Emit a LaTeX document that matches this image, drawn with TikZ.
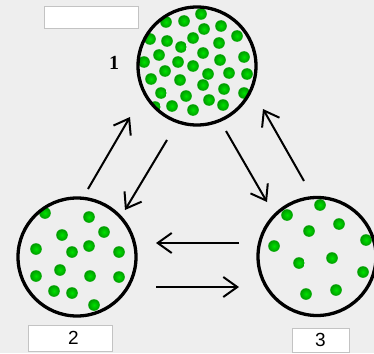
\documentclass[tikz,border=0pt]{standalone}
\usepackage{fontspec}
\setmainfont{Liberation Serif}
\newfontfamily\lsans{Liberation Sans}
\usetikzlibrary{arrows.meta}
\definecolor{bg}{RGB}{238,238,238}
\definecolor{dotin}{RGB}{0,225,0}
\definecolor{dotout}{RGB}{0,155,0}
\definecolor{boxline}{RGB}{195,195,195}
\tikzset{
  vessel/.style={circle, draw=black, line width=3.3pt, minimum size=118pt, inner sep=0pt},
  flow/.style={line width=2pt, -{Straight Barb[length=14pt,width=20pt]}},
  labelbox/.style={draw=boxline, fill=white, line width=1pt, inner sep=0pt, font=\lsans\fontsize{19}{19}\selectfont},
  greendot/.style={inner color=dotin, outer color=dotout},
}
\begin{document}
\begin{tikzpicture}[x=1pt,y=-1pt]
\fill[bg] (0,0) rectangle (374,353);
\useasboundingbox (0,0) rectangle (374,353);

% circle 1 dots
\begin{scope}
\clip (197,66) circle (59pt);
\foreach \p in {(201,14),(166,22),(184,21),(221,26),(204,29),(237,36),(150,39),(167,41),(193,38),(219,43),
  (181,47),(159,55),(203,53),(244,57),(144,62),(178,62),(220,60),(193,66),(165,71),(208,74),(229,73),(247,74),
  (151,79),(180,80),(203,85),(224,89),(161,93),(186,96),(209,100),(244,93),(155,107),(172,106),(193,110),(223,105)}
  {\shade[greendot] \p circle (5.8pt);}
\end{scope}
% circle 2 dots
\begin{scope}
\clip (77,257) circle (59pt);
\foreach \p in {(45,213),(89,217),(62,235),(104,232),(36,249),(72,252),(89,246),(119,252),(36,276),(60,270),
  (90,276),(119,277),(54,291),(72,293),(94,305)}
  {\shade[greendot] \p circle (5.8pt);}
\end{scope}
% circle 3 dots
\begin{scope}
\clip (317,256.5) circle (59pt);
\foreach \p in {(320,205),(287,215),(339,224),(309,231),(366,240),(274,246),(332,258),(299,263),(363,272),
  (306,294),(336,290)}
  {\shade[greendot] \p circle (5.8pt);}
\end{scope}

\node[vessel] (c1) at (197,66) {};
\node[vessel] (c2) at (77,257) {};
\node[vessel] (c3) at (317,256.5) {};

\node[labelbox, minimum width=94pt, minimum height=22pt] (b1) at (91,18) {};
\node[labelbox, minimum width=84pt, minimum height=26pt] (b2) at (70,338) {\hspace*{7pt}2};
\node[labelbox, minimum width=57pt, minimum height=24pt] (b3) at (320.5,340) {3};

\node[font=\bfseries\fontsize{20}{20}\selectfont, inner sep=0pt] (l1) at (114,62.5) {1};

\coordinate (a1s) at (88,189);  \coordinate (a1e) at (130,117);
\coordinate (a2s) at (167,140); \coordinate (a2e) at (125,210);
\coordinate (a3s) at (226,131); \coordinate (a3e) at (267,202);
\coordinate (a4s) at (304,181); \coordinate (a4e) at (263,109);
\coordinate (a5s) at (239,243); \coordinate (a5e) at (156,243);
\coordinate (a6s) at (156,287); \coordinate (a6e) at (239,287);

\draw[flow] (a1s) -- (a1e);
\draw[flow] (a2s) -- (a2e);
\draw[flow] (a3s) -- (a3e);
\draw[flow] (a4s) -- (a4e);
\draw[flow] (a5s) -- (a5e);
\draw[flow] (a6s) -- (a6e);
\end{tikzpicture}
\end{document}
